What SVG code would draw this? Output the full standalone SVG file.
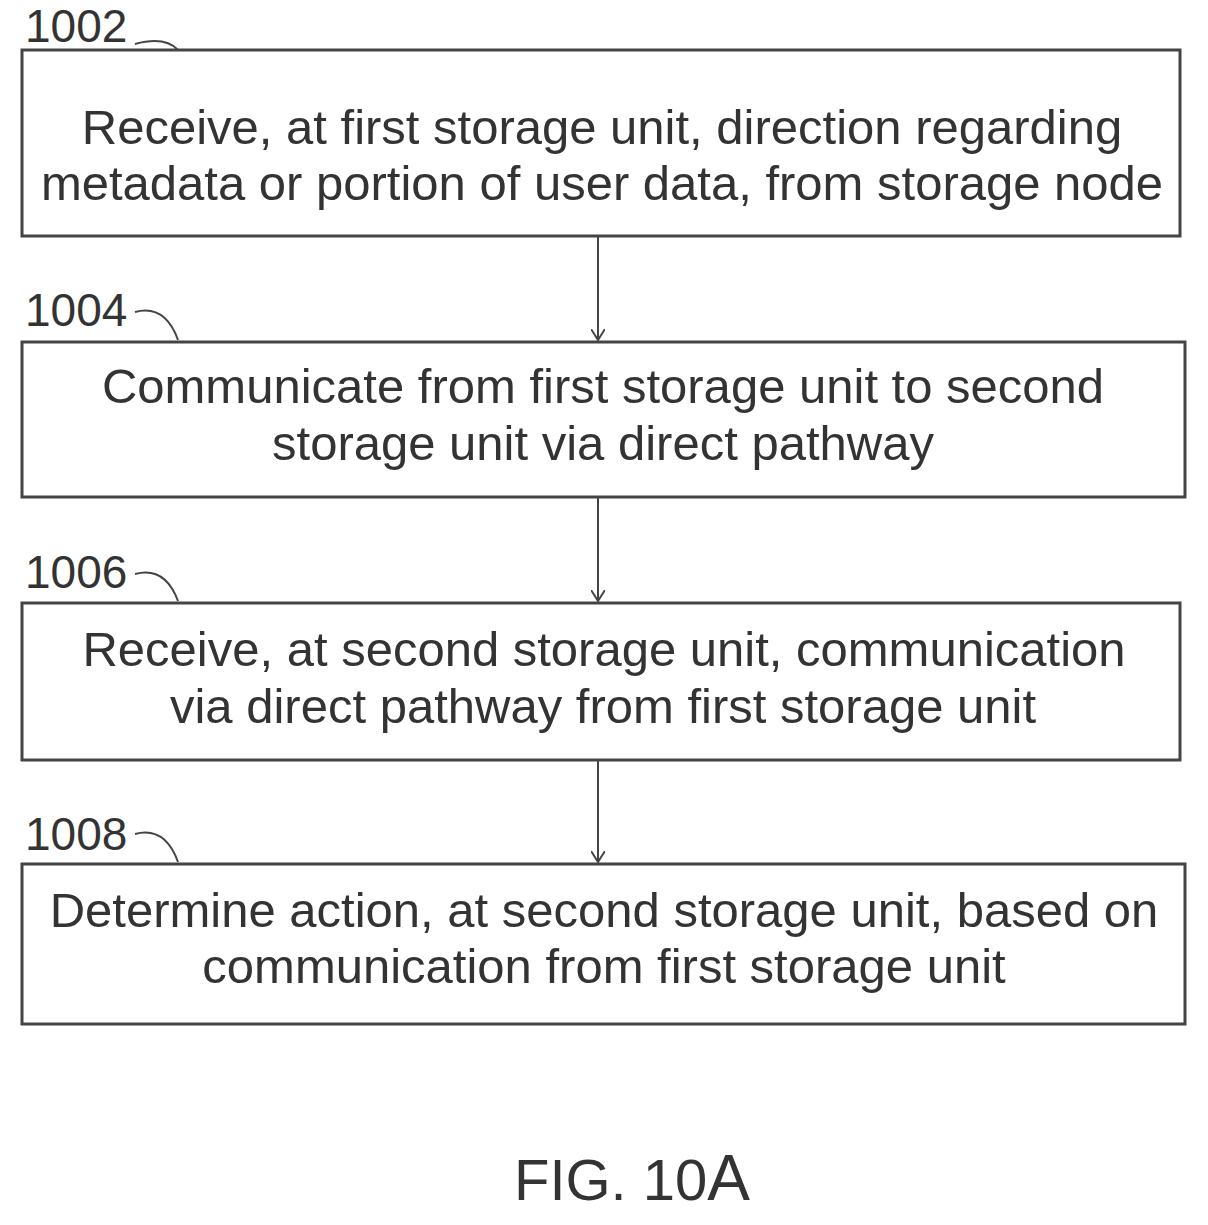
<svg xmlns="http://www.w3.org/2000/svg" width="1208" height="1225" viewBox="0 0 1208 1225">
<style>
.box{fill:#fff;stroke:#444;stroke-width:3}
.t{font-family:"Liberation Sans",Arial,sans-serif;font-size:49px;fill:#333;text-anchor:middle}
.n{font-family:"Liberation Sans",Arial,sans-serif;font-size:46px;fill:#333}
.lead{fill:none;stroke:#444;stroke-width:2}
.c{stroke:#444;stroke-width:2;fill:none;marker-end:url(#ah)}
</style>
<defs><marker id="ah" markerWidth="12" markerHeight="14" refX="11" refY="7" orient="auto" markerUnits="userSpaceOnUse"><path d="M0,0 L11,7 L0,14" fill="none" stroke="#444" stroke-width="2"/></marker></defs>
<rect width="1208" height="1225" fill="#fff"/>
<g id="n1002"><text class="n" x="25" y="42">1002</text><path class="lead" d="M135,44 Q165,36 178,50"/><rect class="box" x="22" y="50" width="1158" height="186"/><text class="t" x="602" y="144">Receive, at first storage unit, direction regarding</text><text class="t" x="602" y="200">metadata or portion of user data, from storage node</text></g>
<g id="n1004"><text class="n" x="25" y="326">1004</text><path class="lead" d="M135,312 Q165,304 178,340"/><rect class="box" x="22" y="342" width="1163" height="155"/><text class="t" x="603" y="403">Communicate from first storage unit to second</text><text class="t" x="603" y="460">storage unit via direct pathway</text></g>
<g id="n1006"><text class="n" x="25" y="588">1006</text><path class="lead" d="M135,574 Q165,566 178,601"/><rect class="box" x="22" y="603" width="1158" height="157"/><text class="t" x="604" y="666">Receive, at second storage unit, communication</text><text class="t" x="603" y="723">via direct pathway from first storage unit</text></g>
<g id="n1008"><text class="n" x="25" y="850">1008</text><path class="lead" d="M135,834 Q165,826 178,862"/><rect class="box" x="22" y="864" width="1163" height="160"/><text class="t" x="604" y="927">Determine action, at second storage unit, based on</text><text class="t" x="604" y="983">communication from first storage unit</text></g>
<g id="connectors"><path class="c" d="M598,236 V340"/><path class="c" d="M598,497 V601"/><path class="c" d="M598,760 V862"/></g>
<text x="632" y="1200" font-family="Liberation Sans,Arial,sans-serif" font-size="58" fill="#333" text-anchor="middle">FIG. 10<tspan font-size="64">A</tspan></text>
</svg>
